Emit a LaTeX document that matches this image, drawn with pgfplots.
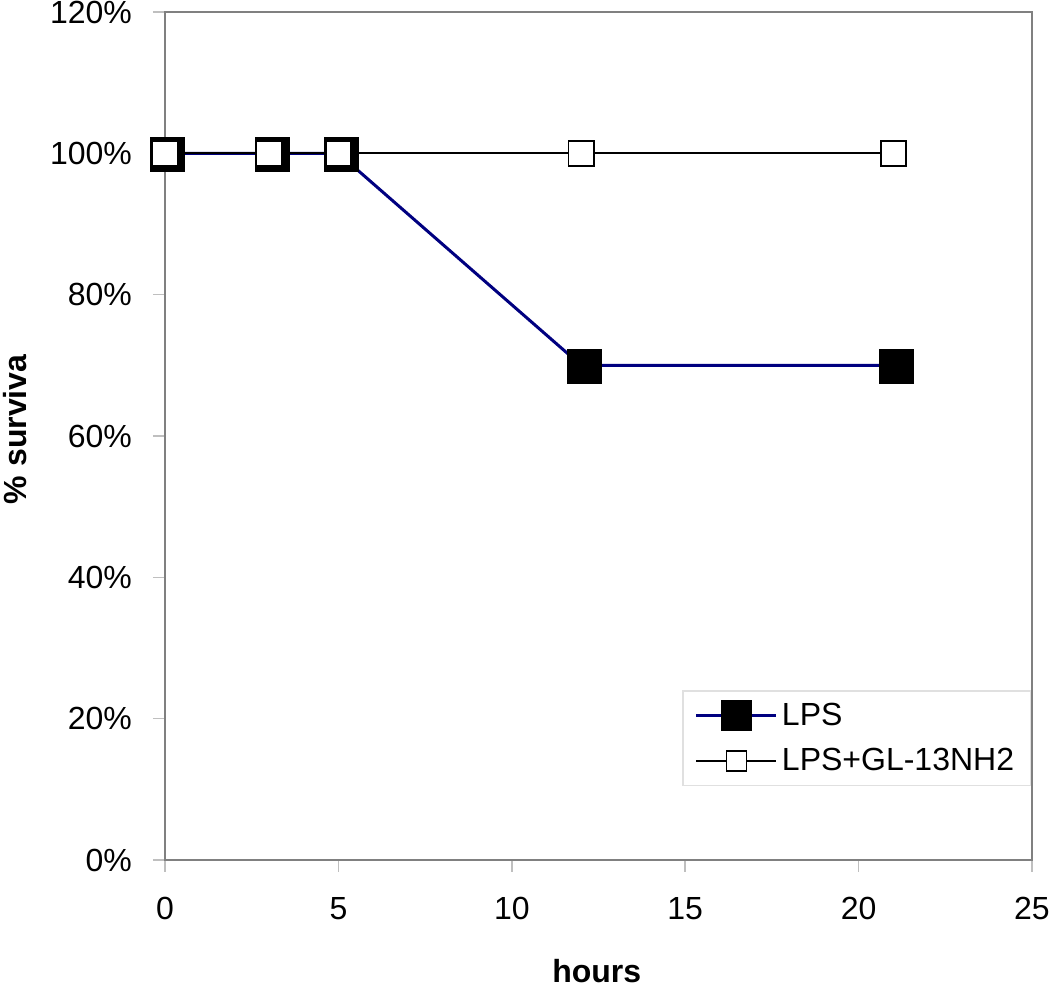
\documentclass[border=0pt]{standalone}
\usepackage{fontspec}
\setmainfont{Liberation Sans}
\usepackage{pgfplots}
\pgfplotsset{compat=1.18}
\definecolor{lpsnavy}{HTML}{000080}
\definecolor{framegray}{HTML}{808080}

\begin{document}
\begin{tikzpicture}
\path[use as bounding box] (-82.5pt,-64.5pt) rectangle (442.5pt,430pt);
\begin{axis}[
    at={(0,0)}, anchor=south west,
    scale only axis,
    width=433.5pt, height=424pt,
    xmin=0, xmax=25,
    ymin=0, ymax=120,
    xtick={0,5,...,25},
    ytick={0,20,...,120},
    xtick pos=bottom, ytick pos=left,
    yticklabel={\pgfmathprintnumber{\tick}\%},
    /pgf/number format/assume math mode=true,
    axis line style={framegray, line width=1.3pt},
    tick style={black!25, line width=0.8pt},
    tick align=outside,
    major tick length=6pt,
    clip=false,
    ticklabel style={font=\fontsize{16}{19}\selectfont},
    xticklabel style={yshift=-9pt},
    yticklabel style={xshift=-7pt},
    xlabel={\textbf{hours}},
    ylabel={\textbf{\% surviva}},
    xlabel style={font=\fontsize{16}{19}\selectfont, at={(axis description cs:0.498,-0.131)}, anchor=center},
    ylabel style={font=\fontsize{16}{19}\selectfont, at={(axis description cs:-0.173,0.508)}, anchor=center, rotate=0},
    legend style={at={(axis description cs:0.9985,0.087)}, anchor=south east,
        draw=black!12, line width=0.6pt, font=\fontsize{16}{19}\selectfont,
        inner xsep=6pt, inner ysep=4pt, row sep=6pt},
    legend cell align=left,
    legend image code/.code={
        \draw[mark repeat=2,mark phase=2] plot coordinates {(0pt,0pt)(20pt,0pt)(40pt,0pt)};
    },
]
% LPS
\addplot[lpsnavy, line width=1.5pt, mark=square*, mark size=8.5pt,
    mark options={fill=black, draw=black, line width=0.5pt, xshift=1.5pt, yshift=-0.7pt}, forget plot]
    coordinates {(0,100) (3,100) (5,100) (12,70) (21,70)};
% LPS+GL-13NH2
\addplot[black, line width=1pt, mark=square*, mark size=6.3pt,
    mark options={fill=white, draw=black, line width=0.9pt}, forget plot]
    coordinates {(0,100) (3,100) (5,100) (12,100) (21,100)};

\addlegendimage{lpsnavy, line width=1.5pt, mark=square*, mark size=7.3pt,
    mark options={fill=black, draw=black, line width=0.5pt}}
\addlegendentry{LPS}
\addlegendimage{black, line width=1pt, mark=square*, mark size=5pt,
    mark options={fill=white, draw=black, line width=0.9pt}}
\addlegendentry{LPS+GL-13NH2}
\end{axis}
\end{tikzpicture}
\end{document}
